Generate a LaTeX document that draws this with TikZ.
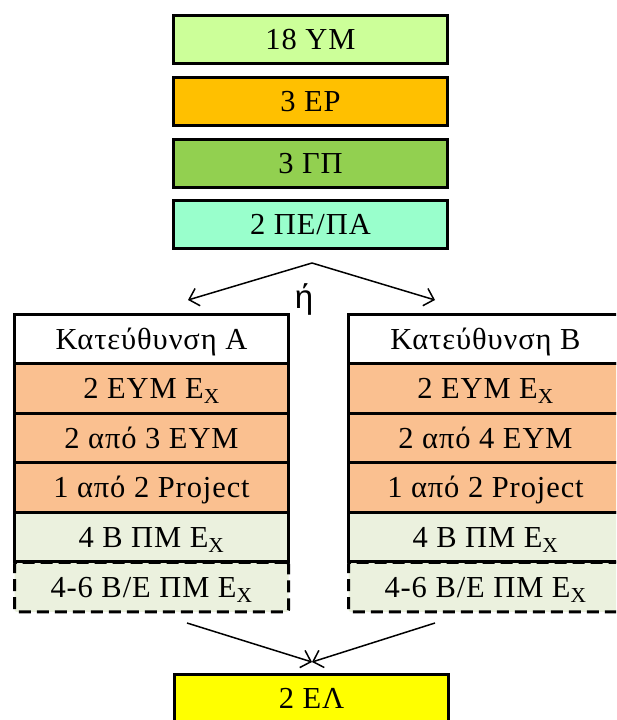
\documentclass[tikz,border=0pt]{standalone}
\usepackage{fontspec}
\setmainfont[LetterSpace=3]{Liberation Serif}
\newfontfamily\orfont{Liberation Sans}
\usetikzlibrary{arrows.meta}

\definecolor{ymcol}{HTML}{CCFF99}
\definecolor{epcol}{HTML}{FFC000}
\definecolor{gpcol}{HTML}{92D050}
\definecolor{pecol}{HTML}{99FFCC}
\definecolor{eymcol}{HTML}{FAC090}
\definecolor{pmcol}{HTML}{EBF1DE}
\definecolor{elcol}{HTML}{FFFF00}

\def\boxw{274pt}
\def\rowh{49.5pt}
\def\colA{151.5}
\def\colB{485.5}
\def\colM{310.5}

\tikzset{
  cell/.style={draw, line width=3pt, minimum width=\boxw, minimum height=\rowh,
    inner sep=0pt, text height=20pt, text depth=0pt, font=\fontsize{30.5}{32}\selectfont},
  topcell/.style={cell, minimum height=48pt},
  optcell/.style={cell, dash pattern=on 12pt off 6pt, rounded corners=2pt},
  flow/.style={line width=1.5pt, -{Straight Barb[length=9pt,width=18pt]}}
}

\begin{document}
\begin{tikzpicture}[x=1pt,y=-1pt]
        \path[use as bounding box] (0,0) rectangle (616,720);
        \clip (0,0) rectangle (616,720);
        \fill[white] (0,0) rectangle (616,720);
        % common courses
        \node[topcell, fill=ymcol] (ym) at (\colM,39.5) {18 ΥΜ};
        \node[topcell, fill=epcol] (ep) at (\colM,101) {3 ΕΡ};
        \node[topcell, fill=gpcol] (gp) at (\colM,163.5) {3 ΓΠ};
        \node[topcell, fill=pecol] (pe) at (\colM,224.5) {2 ΠΕ/ΠΑ};
        % split
        \coordinate (split) at (312,263);
        \coordinate (toA) at (188,300);
        \coordinate (toB) at (435,300);
        \draw[flow] (split) -- (toA);
        \draw[flow] (split) -- (toB);
        \node[font=\orfont\fontsize{33}{35}\selectfont] (or) at (304,299) {ή};
        % direction A
        \node[optcell, fill=pmcol] (a6) at (\colA,587) {4-6 Β/Ε ΠΜ Ε\textsubscript{Χ}};
        \node[cell, fill=white] (a1) at (\colA,339) {Κατεύθυνση Α};
        \node[cell, fill=eymcol] (a2) at (\colA,388.5) {2 ΕΥΜ Ε\textsubscript{Χ}};
        \node[cell, fill=eymcol] (a3) at (\colA,438) {2 από 3 ΕΥΜ};
        \node[cell, fill=eymcol] (a4) at (\colA,487.5) {1 από 2 Project};
        \node[cell, fill=pmcol] (a5) at (\colA,537) {4 Β ΠΜ Ε\textsubscript{Χ}};
        % direction B
        \node[optcell, fill=pmcol] (b6) at (\colB,587) {4-6 Β/Ε ΠΜ Ε\textsubscript{Χ}};
        \node[cell, fill=white] (b1) at (\colB,339) {Κατεύθυνση Β};
        \node[cell, fill=eymcol] (b2) at (\colB,388.5) {2 ΕΥΜ Ε\textsubscript{Χ}};
        \node[cell, fill=eymcol] (b3) at (\colB,438) {2 από 4 ΕΥΜ};
        \node[cell, fill=eymcol] (b4) at (\colB,487.5) {1 από 2 Project};
        \node[cell, fill=pmcol] (b5) at (\colB,537) {4 Β ΠΜ Ε\textsubscript{Χ}};
        % merge
        \coordinate (fromA) at (187,623);
        \coordinate (fromB) at (435,623);
        \node[cell, fill=elcol, minimum height=48pt] (el) at (311.5,698.5) {2 ΕΛ};
        \draw[flow] (fromA) -- ([xshift=0.5pt,yshift=11pt]el.north);
        \draw[flow] (fromB) -- ([xshift=0.5pt,yshift=11pt]el.north);
\end{tikzpicture}
\end{document}
